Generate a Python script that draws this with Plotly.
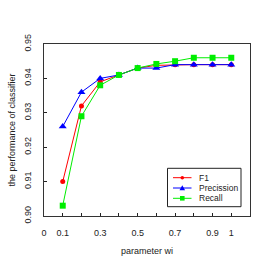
import plotly.graph_objects as go

wi = [0.1, 0.2, 0.3, 0.4, 0.5, 0.6, 0.7, 0.8, 0.9, 1.0]
f1 = [0.910, 0.932, 0.939, 0.941, 0.943, 0.9438, 0.944, 0.944, 0.944, 0.944]
precision = [0.926, 0.936, 0.940, 0.941, 0.943, 0.943, 0.944, 0.944, 0.944, 0.944]
recall = [0.903, 0.929, 0.938, 0.941, 0.943, 0.9442, 0.945, 0.946, 0.946, 0.946]

series_names = ["F1", "Precission", "Recall"]
series_colors = ["#ff0000", "#0000ff", "#00ee00"]

x_tickvals = [0, 0.1, 0.3, 0.5, 0.7, 0.9, 1]
x_ticktext = ["0", "0.1", "0.3", "0.5", "0.7", "0.9", "1"]
y_tickvals = [0.90, 0.91, 0.92, 0.93, 0.94, 0.95]
y_ticktext = ["0.90", "0.91", "0.92", "0.93", "0.94", "0.95"]

font = "Liberation Sans, Arial, sans-serif"
W, H = 273, 272
ML, MR, MT, MB = 44, 23, 44, 56
PW, PH = W - ML - MR, H - MT - MB

fig = go.Figure()
fig.add_trace(go.Scatter(x=wi, y=f1, name=series_names[0], mode="lines+markers",
                         line=dict(color=series_colors[0], width=1),
                         marker=dict(symbol="circle", size=5, color=series_colors[0])))
fig.add_trace(go.Scatter(x=wi, y=precision, name=series_names[1], mode="lines+markers",
                         line=dict(color=series_colors[1], width=1),
                         marker=dict(symbol="triangle-up", size=7, color=series_colors[1])))
fig.add_trace(go.Scatter(x=wi, y=recall, name=series_names[2], mode="lines+markers",
                         line=dict(color=series_colors[2], width=1),
                         marker=dict(symbol="square", size=6, color=series_colors[2])))

# custom compact legend (pixel positions converted to paper coords)
def px(xp):
    return (xp - ML) / PW

def py(yp):
    return (H - MB - yp) / PH

shapes = [dict(type="rect", xref="paper", yref="paper",
               x0=px(167.5), x1=px(241), y0=py(206.7), y1=py(168.3),
               line=dict(color="#222222", width=1), fillcolor="white", layer="above")]
annotations = []
row_y = [177.7, 188, 198.3]
for i, (name, col) in enumerate(zip(series_names, series_colors)):
    yy = row_y[i]
    shapes.append(dict(type="line", xref="paper", yref="paper",
                       x0=px(173), x1=px(191.5), y0=py(yy), y1=py(yy),
                       line=dict(color=col, width=1), layer="above"))
    cx = 182.3
    if i == 0:
        shapes.append(dict(type="circle", xref="paper", yref="paper",
                           x0=px(cx - 1.8), x1=px(cx + 1.8), y0=py(yy + 1.8), y1=py(yy - 1.8),
                           line=dict(color=col, width=0), fillcolor=col, layer="above"))
    elif i == 1:
        path = "M {} {} L {} {} L {} {} Z".format(px(cx - 2.8), py(yy + 2.2), px(cx + 2.8), py(yy + 2.2),
                                                  px(cx), py(yy - 2.8))
        shapes.append(dict(type="path", xref="paper", yref="paper", path=path,
                           line=dict(color=col, width=0), fillcolor=col, layer="above"))
    else:
        shapes.append(dict(type="rect", xref="paper", yref="paper",
                           x0=px(cx - 2.3), x1=px(cx + 2.3), y0=py(yy + 2.3), y1=py(yy - 2.3),
                           line=dict(color=col, width=0), fillcolor=col, layer="above"))
    annotations.append(dict(text=name, xref="paper", yref="paper", x=px(196.5), y=py(yy),
                            xanchor="left", yanchor="middle", showarrow=False,
                            font=dict(size=8.5, color="#222222", family=font)))

fig.update_layout(
    width=W, height=H,
    margin=dict(l=ML, r=MR, t=MT, b=MB),
    paper_bgcolor="white", plot_bgcolor="white",
    font=dict(family=font, size=9, color="#222222"),
    showlegend=False,
    hovermode=False,
    shapes=shapes,
    annotations=annotations,
)
fig.update_xaxes(
    range=[0, 1.1], tickmode="array", tickvals=x_tickvals, ticktext=x_ticktext,
    ticks="inside", ticklen=3, tickcolor="#222222", showgrid=False, zeroline=False,
    showline=True, linecolor="#333333", linewidth=1, mirror=True,
    minor=dict(tickmode="linear", tick0=0, dtick=0.1, ticks="inside", ticklen=3, tickcolor="#222222"),
    ticklabelstandoff=8, automargin=False,
    title=dict(text="parameter wi", font=dict(size=9), standoff=10),
)
fig.update_yaxes(
    range=[0.90, 0.95], tickmode="array", tickvals=y_tickvals, ticktext=y_ticktext,
    tickangle=-90, ticks="inside", ticklen=3, tickcolor="#222222",
    showgrid=False, zeroline=False,
    showline=True, linecolor="#333333", linewidth=1, mirror=True,
    ticklabelstandoff=8, automargin=False,
    title=dict(text="the performance of classifier", font=dict(size=9), standoff=6),
)

fig.write_html("out.html",
               config={"displayModeBar": False, "staticPlot": True},
               post_script="document.body.style.margin='0';document.body.style.padding='0';")
